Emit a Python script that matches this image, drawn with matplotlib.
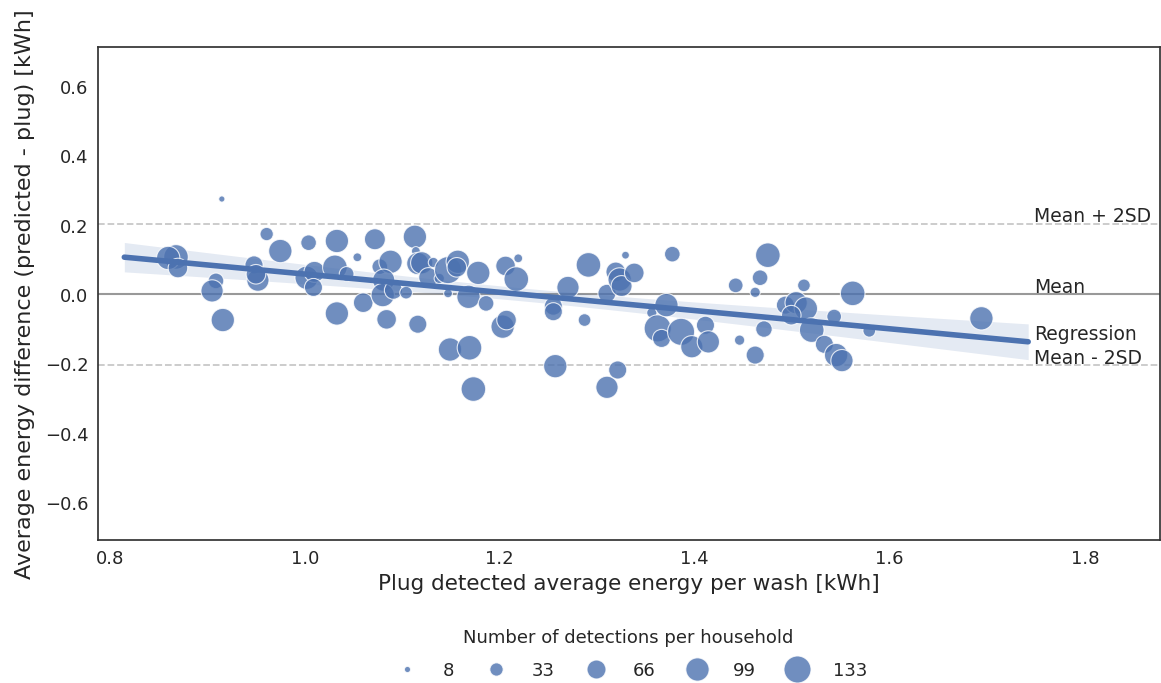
import numpy as np
import matplotlib
matplotlib.use("Agg")
from matplotlib import pyplot as plt
from matplotlib.lines import Line2D

# plug detected average energy per wash [kWh]
plug_energy = [0.915, 0.961, 0.975, 1.004, 1.033, 1.072, 1.113, 1.114, 0.868, 0.860,
               0.870, 0.909, 0.905, 0.916, 0.948, 0.952, 0.950, 1.002, 1.010, 1.009,
               1.031, 1.043, 1.033, 1.060, 1.054, 1.077, 1.088, 1.081, 1.080, 1.091,
               1.104, 1.084, 1.116, 1.116, 1.120, 1.132, 1.127, 1.138, 1.147, 1.157,
               1.156, 1.147, 1.168, 1.178, 1.186, 1.149, 1.169, 1.173, 1.206, 1.219,
               1.217, 1.203, 1.207, 1.255, 1.255, 1.257, 1.270, 1.287, 1.291, 1.310,
               1.310, 1.321, 1.319, 1.323, 1.325, 1.329, 1.338, 1.356, 1.362, 1.366,
               1.371, 1.377, 1.386, 1.397, 1.411, 1.414, 1.442, 1.462, 1.467, 1.475,
               1.446, 1.462, 1.471, 1.493, 1.504, 1.514, 1.499, 1.512, 1.520, 1.533,
               1.543, 1.545, 1.551, 1.562, 1.579, 1.694]
# average energy difference (predicted - plug) [kWh]
energy_diff = [0.277, 0.176, 0.127, 0.151, 0.156, 0.161, 0.168, 0.127, 0.110, 0.107,
               0.078, 0.041, 0.012, -0.072, 0.087, 0.043, 0.060, 0.050, 0.067, 0.022,
               0.080, 0.061, -0.053, -0.022, 0.109, 0.082, 0.096, 0.043, 0.000, 0.014,
               0.007, -0.070, -0.084, 0.091, 0.093, 0.094, 0.051, 0.048, 0.072, 0.096,
               0.080, 0.005, -0.005, 0.064, -0.024, -0.157, -0.152, -0.271, 0.084, 0.106,
               0.046, -0.091, -0.072, -0.032, -0.048, -0.205, 0.022, -0.072, 0.087, 0.005,
               -0.266, -0.216, 0.067, 0.045, 0.026, 0.115, 0.064, -0.051, -0.096, -0.125,
               -0.029, 0.118, -0.106, -0.149, -0.087, -0.135, 0.028, 0.008, 0.050, 0.115,
               -0.130, -0.173, -0.098, -0.029, -0.022, -0.039, -0.058, 0.028, -0.101, -0.142,
               -0.062, -0.173, -0.189, 0.005, -0.103, -0.067]
# number of detections per household
n_detections = [8, 33, 99, 45, 99, 80, 99, 15, 110, 99,
                70, 45, 90, 99, 60, 90, 70, 99, 80, 60,
                110, 40, 99, 70, 15, 45, 99, 90, 99, 60,
                30, 70, 60, 90, 90, 20, 70, 20, 133, 99,
                70, 15, 99, 99, 45, 99, 110, 110, 70, 15,
                110, 99, 70, 60, 60, 99, 90, 30, 110, 60,
                90, 60, 70, 99, 80, 12, 70, 20, 133, 60,
                99, 45, 133, 90, 60, 90, 40, 20, 45, 110,
                20, 60, 50, 60, 90, 99, 70, 30, 110, 60,
                40, 99, 90, 110, 30, 99]

legend_counts = [8, 33, 66, 99, 133]

# values
mean_diff = 0.002
sd_diff = 0.102
reg_x = [0.815, 1.742]

blue = "#4C72B0"
text_col = "#262626"


def marker_area(n):
    return 20 + (np.asarray(n) - 8) / 125 * 360


x = np.array(plug_energy)
y = np.array(energy_diff)

# ordinary least squares fit with 95% confidence band
slope, intercept = np.polyfit(x, y, 1)
xs = np.linspace(reg_x[0], reg_x[1], 100)
ys = intercept + slope * xs
resid = y - (intercept + slope * x)
s_err = np.sqrt(np.sum(resid ** 2) / (len(x) - 2))
ci = 1.985 * s_err * np.sqrt(1 / len(x) + (xs - x.mean()) ** 2 / np.sum((x - x.mean()) ** 2))

fig = plt.figure(figsize=(11.61, 6.83), dpi=100)
ax = fig.add_axes([0.0844, 0.209, 0.9146, 0.722])

ax.axhline(mean_diff, color="#999999", lw=1.5, zorder=1)
ax.axhline(mean_diff + 2 * sd_diff, color="#c8c8c8", lw=1.3, ls="--", zorder=1)
ax.axhline(mean_diff - 2 * sd_diff, color="#c8c8c8", lw=1.3, ls="--", zorder=1)

ax.scatter(x, y, s=marker_area(n_detections), color=blue, alpha=0.8,
           edgecolors="white", linewidths=0.8, zorder=3)

ax.fill_between(xs, ys - ci, ys + ci, color=blue, alpha=0.15, lw=0, zorder=2)
ax.plot(xs, ys, color=blue, lw=4, zorder=4, solid_capstyle="round")

ax.set_xlim(0.788, 1.877)
ax.set_ylim(-0.707, 0.715)
ax.set_xticks([0.8, 1.0, 1.2, 1.4, 1.6, 1.8])
ax.set_yticks([-0.6, -0.4, -0.2, 0.0, 0.2, 0.4, 0.6])
ax.tick_params(labelsize=13, length=0, pad=7, colors=text_col)
ax.set_xlabel("Plug detected average energy per wash [kWh]", fontsize=15.5, color=text_col, labelpad=4)
ax.set_ylabel("Average energy difference (predicted - plug) [kWh]", fontsize=16, color=text_col, labelpad=7)
for sp in ax.spines.values():
    sp.set_color("#333333")
    sp.set_linewidth(1.25)

tx = 1.748
ax.text(tx, mean_diff + 2 * sd_diff + 0.02, "Mean + 2SD", fontsize=13.5, color=text_col, va="center")
ax.text(tx, mean_diff + 0.02, "Mean", fontsize=13.5, color=text_col, va="center")
ax.text(tx, -0.115, "Regression", fontsize=13.5, color=text_col, va="center")
ax.text(tx, mean_diff - 2 * sd_diff + 0.02, "Mean - 2SD", fontsize=13.5, color=text_col, va="center")

handles = [Line2D([], [], ls="", marker="o", color=blue, alpha=0.8, markeredgecolor="white",
                  markeredgewidth=0.8, markersize=np.sqrt(marker_area(c)))
           for c in legend_counts]
leg = fig.legend(handles, [str(c) for c in legend_counts], loc="lower center",
                 bbox_to_anchor=(0.541, -0.019), ncol=5, frameon=False, fontsize=13,
                 title="Number of detections per household", title_fontsize=13,
                 columnspacing=1.3, handletextpad=1.0, labelspacing=0.8)
for t in leg.get_texts():
    t.set_color(text_col)
leg.get_title().set_color(text_col)

fig.savefig("out.png", dpi=100)
